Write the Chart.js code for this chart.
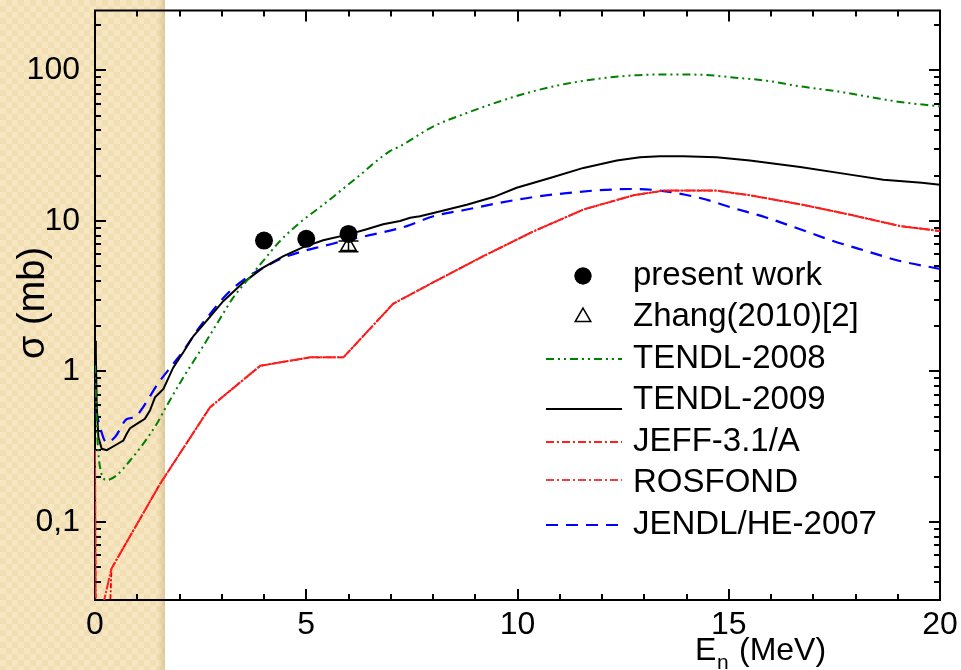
<!DOCTYPE html>
<html>
<head>
<meta charset="utf-8">
<title>sigma vs En</title>
<script src="https://cdn.jsdelivr.net/npm/chart.js@4.4.1/dist/chart.umd.min.js"></script>
<style>
  body { margin: 0; background: #fff; }
  #wrap { position: relative; width: 961px; height: 670px; overflow: hidden; }
  #band {
    position: absolute; left: 0; top: 0; width: 165px; height: 670px;
    background:
      linear-gradient(to right, rgba(170, 140, 80, 0) 0, rgba(170, 140, 80, 0) 157px, rgba(170, 140, 80, 0.3) 165px),
      repeating-conic-gradient(#f1dfb3 0% 25%, #f6e7c2 0% 50%) 0 0 / 12px 12px;
  }
  #chart { position: absolute; left: 0; top: 0; }
</style>
</head>
<body>
<div id="wrap">
  <div id="band"></div>
  <canvas id="chart" width="961" height="670"></canvas>
</div>
<script>
// measurements
const presentE = [4, 5, 6];
const presentSigma = [7.4, 7.6, 8.2];
const presentErr = [0.3, 0.3, 0.35];
const zhangE = [6];
const zhangSigma = [6.8];
const zhangErr = [0.55];

// evaluated data libraries (E in MeV, sigma in mb)
const tendl2008E = [0, 0.03, 0.06, 0.12, 0.28, 0.51, 0.83, 1.14, 1.46, 1.7, 2.09, 2.49, 2.88, 3.27, 3.59, 3.98, 4.38, 4.85, 5.4, 6.19, 6.98, 7.22, 8.01, 8.8, 9.59, 10.37, 11.16, 11.95, 12.74, 13.53, 14.32, 15.1, 15.9, 16.69, 17.47, 18.26, 19.05, 20];
const tendl2008 = [1.1, 0.6, 0.35, 0.23, 0.19, 0.204, 0.256, 0.33, 0.448, 0.592, 0.912, 1.37, 2.06, 3.09, 3.99, 5.42, 7.36, 9.74, 12.8, 19.3, 29.1, 31.3, 42.5, 52.1, 62.4, 72.6, 81.6, 88.2, 92.7, 94, 93.6, 89.8, 85.4, 78.3, 73.3, 67.2, 61.7, 57.7];

const tendl2009E = [0, 0.02, 0.04, 0.08, 0.16, 0.28, 0.51, 0.67, 0.75, 0.83, 0.99, 1.18, 1.3, 1.42, 1.62, 1.85, 2.09, 2.33, 2.64, 3.04, 3.51, 3.98, 4.46, 4.93, 5.4, 6.0, 6.43, 6.82, 7.22, 7.46, 7.69, 8.01, 8.8, 9.43, 9.98, 10.77, 11.56, 12.35, 12.9, 13.37, 13.92, 14.71, 15.5, 16.69, 17.87, 18.66, 19.57, 20];
const tendl2009 = [1.6, 1.3, 0.6, 0.365, 0.306, 0.3, 0.327, 0.347, 0.385, 0.42, 0.448, 0.484, 0.549, 0.672, 0.764, 1.06, 1.34, 1.72, 2.17, 2.94, 3.89, 4.89, 5.84, 6.7, 7.43, 8.14, 8.8, 9.5, 10.0, 10.5, 10.75, 11.3, 12.8, 14.4, 16.6, 19.3, 22.5, 25.2, 26.5, 26.9, 26.9, 26.5, 25.2, 22.8, 20.3, 18.8, 17.9, 17.4];

const jeffE = [0, 0.02, 0.19, 0.39, 1.54, 2.72, 3.91, 5.09, 5.88, 7.06, 8.0, 9.2, 10.37, 11.56, 12.74, 13.46, 14.71, 15.5, 16.69, 17.87, 19.05, 20];
const jeff = [0.3, 0.01, 0.028, 0.049, 0.179, 0.577, 1.09, 1.24, 1.24, 2.82, 3.9, 5.85, 8.5, 11.9, 14.8, 15.9, 15.9, 14.8, 12.9, 11.0, 9.25, 8.57];

const rosfondE = [0, 0.02, 0.36, 0.39, 1.54, 2.72, 3.91, 5.09, 5.88, 7.06, 8.0, 9.2, 10.37, 11.56, 12.74, 13.46, 14.71, 15.5, 16.69, 17.87, 19.05, 20];
const rosfond = [0.3, 0.01, 0.028, 0.049, 0.179, 0.577, 1.09, 1.24, 1.24, 2.82, 3.9, 5.85, 8.5, 11.9, 14.8, 15.9, 15.9, 14.8, 12.9, 11.0, 9.25, 8.57];

const jendlE = [0.02, 0.08, 0.27, 0.47, 0.74, 0.85, 0.99, 1.14, 1.49, 1.85, 2.09, 2.41, 2.72, 3.12, 3.59, 4.06, 4.46, 4.93, 5.4, 6.04, 6.59, 7.38, 8.01, 8.8, 9.59, 10.37, 11.16, 11.95, 12.74, 13.37, 14.32, 15.1, 15.9, 16.69, 17.47, 18.26, 19.05, 20];
const jendl = [0.55, 0.47, 0.338, 0.365, 0.48, 0.49, 0.51, 0.58, 0.83, 1.12, 1.37, 1.86, 2.4, 3.26, 4.2, 5.02, 5.7, 6.3, 6.8, 7.54, 8.14, 9.23, 10.75, 11.9, 13.2, 14.4, 15.3, 16.0, 16.3, 15.9, 14.2, 12.2, 10.5, 8.8, 7.36, 6.3, 5.42, 4.8];

const xTicks = [0, 5, 10, 15, 20];
const yTicks = [0.1, 1, 10, 100];
const yTickLabels = ['0,1', '1', '10', '100'];

const FONT = "'Liberation Sans', Arial, sans-serif";
const pts = (xs, ys) => xs.map((x, i) => ({ x: x, y: ys[i] }));

const curve = (label, xs, ys, color, width, dash, keyDash, smooth) => ({
  label: label,
  data: pts(xs, ys),
  showLine: true,
  borderColor: color,
  backgroundColor: color,
  borderWidth: width,
  borderDash: dash,
  keyDash: keyDash,
  pointRadius: 0,
  tension: 0,
  cubicInterpolationMode: smooth ? 'monotone' : 'default'
});

const datasets = [
  { label: 'present work', data: pts(presentE, presentSigma), err: presentErr, cap: 5, showLine: false,
    pointStyle: 'circle', pointRadius: 9, backgroundColor: '#000', borderColor: '#000', borderWidth: 0 },
  { label: 'Zhang(2010)[2]', data: pts(zhangE, zhangSigma), err: zhangErr, cap: 10, showLine: false,
    pointStyle: 'triangle', pointRadius: 9, backgroundColor: '#fff', borderColor: '#000', borderWidth: 1.5 },
  curve('TENDL-2008', tendl2008E, tendl2008, '#008000', 2, [8, 4, 2, 4, 2, 4], [8, 4, 2, 4, 2, 4], true),
  curve('TENDL-2009', tendl2009E, tendl2009, '#000000', 2, [], [], false),
  curve('JEFF-3.1/A', jeffE, jeff, '#ff2020', 2, [12, 1.5, 2, 1.5], [8, 3, 2, 3], false),
  curve('ROSFOND', rosfondE, rosfond, '#e80000', 1.8, [5, 2, 2, 2], [8, 3, 2, 3], false),
  curve('JENDL/HE-2007', jendlE, jendl, '#0000ff', 2.2, [12, 8], [12, 8], true)
];

// box around the plot with inward ticks on all four sides
const frame = {
  id: 'frame',
  beforeDatasetsDraw(chart) {
    const { ctx, chartArea: a, scales: { x, y } } = chart;
    ctx.save();
    ctx.strokeStyle = '#000';
    ctx.lineWidth = 2;
    ctx.strokeRect(a.left, a.top, a.right - a.left, a.bottom - a.top);
    ctx.beginPath();
    for (let e = x.min; e <= x.max; e += 1) {
      const px = Math.round(x.getPixelForValue(e));
      const len = e % 5 === 0 ? 11 : 6;
      ctx.moveTo(px, a.bottom); ctx.lineTo(px, a.bottom - len);
      ctx.moveTo(px, a.top); ctx.lineTo(px, a.top + len);
    }
    for (let d = -2; d <= 2; d++) {
      for (let m = 1; m <= 9; m++) {
        const v = m * Math.pow(10, d);
        if (v < y.min || v > y.max) continue;
        const py = Math.round(y.getPixelForValue(v));
        const len = m === 1 ? 11 : 6;
        ctx.moveTo(a.left, py); ctx.lineTo(a.left + len, py);
        ctx.moveTo(a.right, py); ctx.lineTo(a.right - len, py);
      }
    }
    ctx.stroke();
    ctx.restore();
  }
};

// vertical error bars for the measured points
const errorBars = {
  id: 'errorBars',
  afterDatasetsDraw(chart) {
    const { ctx, scales: { x, y } } = chart;
    ctx.save();
    ctx.strokeStyle = '#000';
    ctx.lineWidth = 1.5;
    chart.data.datasets.forEach(ds => {
      if (!ds.err) return;
      ds.data.forEach((p, i) => {
        const px = x.getPixelForValue(p.x);
        const lo = y.getPixelForValue(p.y - ds.err[i]);
        const hi = y.getPixelForValue(p.y + ds.err[i]);
        ctx.beginPath();
        ctx.moveTo(px, lo); ctx.lineTo(px, hi);
        ctx.moveTo(px - ds.cap, lo); ctx.lineTo(px + ds.cap, lo);
        ctx.moveTo(px - ds.cap, hi); ctx.lineTo(px + ds.cap, hi);
        ctx.stroke();
      });
    });
    ctx.restore();
  }
};

// legend inside the plot plus both axis titles
const legendRows = [
  { i: 0, y: 276 }, { i: 1, y: 317 }, { i: 2, y: 359 }, { i: 3, y: 400, dy: 9 },
  { i: 4, y: 442 }, { i: 5, y: 483, dy: -3 }, { i: 6, y: 525 }
];
const annotations = {
  id: 'annotations',
  afterDraw(chart) {
    const ctx = chart.ctx;
    ctx.save();
    ctx.fillStyle = '#000';
    ctx.textBaseline = 'middle';
    ctx.textAlign = 'left';
    ctx.font = '33px ' + FONT;
    legendRows.forEach(r => {
      const ds = chart.data.datasets[r.i];
      if (ds.showLine) {
        const ly = r.y + (r.dy || 0);
        ctx.save();
        ctx.strokeStyle = ds.borderColor;
        ctx.lineWidth = ds.label === 'ROSFOND' ? 1.3 : Math.min(ds.borderWidth, 2);
        ctx.setLineDash(ds.keyDash);
        ctx.beginPath();
        ctx.moveTo(546, ly); ctx.lineTo(622, ly);
        ctx.stroke();
        ctx.restore();
      } else {
        Chart.helpers.drawPoint(ctx, {
          pointStyle: ds.pointStyle, radius: ds.pointStyle === 'circle' ? 8.5 : 9,
          borderWidth: ds.borderWidth, rotation: 0
        }, 583, r.y);
        ctx.fillStyle = ds.backgroundColor;
        ctx.strokeStyle = ds.borderColor;
        ctx.lineWidth = ds.borderWidth || 0.01;
        ctx.fill();
        if (ds.borderWidth) ctx.stroke();
        ctx.fillStyle = '#000';
      }
      ctx.fillText(ds.label, 633, r.y);
    });

    // x title with subscript
    ctx.textBaseline = 'alphabetic';
    ctx.font = '32px ' + FONT;
    ctx.fillText('E', 695, 660);
    ctx.font = '21px ' + FONT;
    ctx.fillText('n', 717, 669);
    ctx.font = '32px ' + FONT;
    ctx.fillText('(MeV)', 739, 660);

    // y title
    ctx.translate(34, 303);
    ctx.rotate(-Math.PI / 2);
    ctx.textAlign = 'center';
    ctx.textBaseline = 'middle';
    ctx.font = '38px ' + FONT;
    ctx.fillText('\u03c3 (mb)', 0, 0);
    ctx.restore();
  }
};

new Chart(document.getElementById('chart'), {
  type: 'scatter',
  data: { datasets: datasets },
  plugins: [frame, errorBars, annotations],
  options: {
    responsive: false,
    animation: false,
    layout: { padding: { left: 0, right: 21, top: 9, bottom: 0 } },
    plugins: { legend: { display: false }, tooltip: { enabled: false } },
    scales: {
      x: {
        type: 'linear',
        min: 0,
        max: 20,
        afterFit: s => { s.height = 70; s.paddingLeft = 0; s.paddingRight = 0; },
        afterBuildTicks: s => { s.ticks = xTicks.map(v => ({ value: v })); },
        grid: { display: false, drawTicks: false },
        border: { display: false },
        ticks: { color: '#000', padding: 6, maxRotation: 0, font: { family: FONT, size: 32 } }
      },
      y: {
        type: 'logarithmic',
        min: 0.0303,
        max: 250,
        afterFit: s => { s.width = 95; s.paddingTop = 0; s.paddingBottom = 0; },
        afterBuildTicks: s => { s.ticks = yTicks.map(v => ({ value: v })); },
        grid: { display: false, drawTicks: false },
        border: { display: false },
        ticks: {
          color: '#000', padding: 15, font: { family: FONT, size: 32 },
          callback: v => yTickLabels[yTicks.indexOf(v)]
        }
      }
    }
  }
});
</script>
</body>
</html>
